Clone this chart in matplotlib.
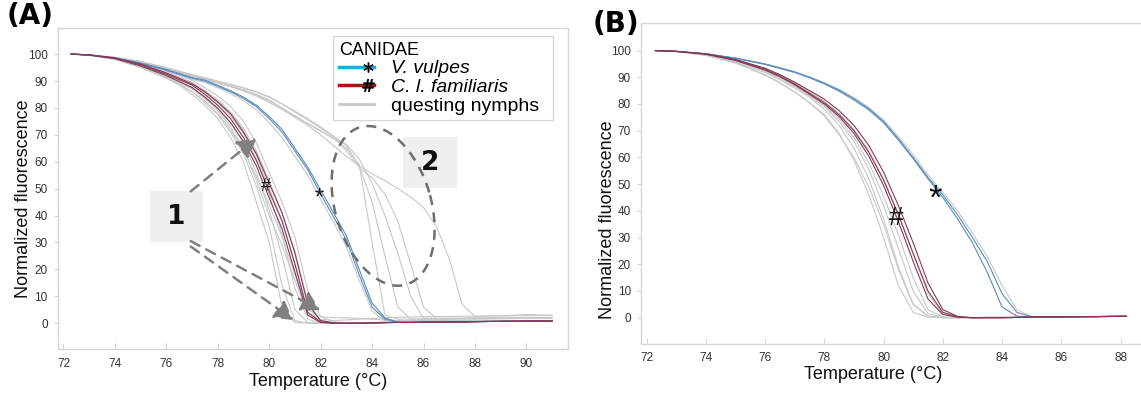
import matplotlib
matplotlib.use("Agg")
import matplotlib.pyplot as plt
import matplotlib.transforms as mtrans
from matplotlib.patches import Rectangle, Ellipse
from matplotlib.lines import Line2D
from matplotlib.legend_handler import HandlerLine2D

plt.rcParams['font.family'] = ['Liberation Sans', 'DejaVu Sans']

# ---------------- panel A data (temperature grid + normalized fluorescence) ----------------
TA = [72.3, 73, 74, 75, 76, 76.5, 77, 77.5, 78, 78.5, 79, 79.5, 80, 80.5, 81, 81.5,
      82, 82.5, 83, 83.5, 84, 84.5, 85, 85.5, 86, 86.5, 87, 87.5, 88, 89, 90, 91]

fox_a1 = [100, 99.7, 98.5, 96.5, 94.0, 92.5, 91.0, 90.0, 88.0, 86.0, 83.5, 80.5, 76.0, 71.0, 64.0, 57.0,
          48.0, 39.5, 31.0, 18.0, 6.0, 1.5, 0.3, 0.3, 0.4, 0.4, 0.5, 0.5, 0.6, 0.7, 0.8, 0.8]
fox_a2 = [100, 99.7, 98.6, 96.7, 94.3, 92.8, 91.3, 90.3, 88.4, 86.4, 84.0, 81.0, 76.8, 72.0, 65.0, 58.0,
          49.5, 41.0, 32.5, 20.0, 7.5, 2.0, 0.4, 0.3, 0.4, 0.4, 0.5, 0.5, 0.6, 0.7, 0.8, 0.8]

dog_a1 = [100, 99.7, 98.5, 96.0, 92.5, 90.5, 88.5, 85.0, 81.0, 76.0, 69.0, 60.5, 49.0, 38.0, 22.0, 4.0,
          0.5, 0.0, 0.0, 0.0, 0.1, 0.2, 0.3, 0.3, 0.4, 0.4, 0.5, 0.5, 0.6, 0.7, 0.8, 0.8]
dog_a2 = [100, 99.6, 98.3, 95.6, 92.0, 89.8, 87.6, 84.0, 79.8, 74.5, 67.5, 58.5, 46.5, 35.0, 19.0, 3.0,
          0.3, 0.0, 0.0, 0.0, 0.1, 0.2, 0.3, 0.3, 0.4, 0.4, 0.5, 0.5, 0.6, 0.7, 0.8, 0.8]
dog_a3 = [100, 99.7, 98.6, 96.3, 93.0, 91.0, 89.0, 86.0, 82.2, 77.8, 71.0, 63.0, 52.0, 41.0, 26.0, 7.0,
          1.0, 0.1, 0.0, 0.0, 0.1, 0.2, 0.3, 0.3, 0.4, 0.4, 0.5, 0.5, 0.6, 0.7, 0.8, 0.8]

nym_a1 = [100, 99.6, 98.0, 95.0, 91.0, 88.5, 85.0, 81.0, 76.0, 69.0, 60.0, 45.0, 30.0, 6.0, 0.3, 0.0,
          0.0, 0.0, 0.1, 0.2, 0.2, 0.3, 0.3, 0.4, 0.4, 0.5, 0.5, 0.5, 0.6, 0.7, 0.8, 0.8]
nym_a2 = [100, 99.6, 98.2, 95.5, 91.5, 89.0, 86.0, 82.0, 77.5, 71.0, 63.0, 51.0, 36.0, 14.0, 1.0, 0.0,
          0.0, 0.0, 0.1, 0.2, 0.2, 0.3, 0.3, 0.4, 0.4, 0.5, 0.5, 0.5, 0.6, 0.7, 0.8, 0.8]
nym_a3 = [100, 99.7, 98.4, 96.0, 92.5, 90.0, 87.5, 84.0, 80.0, 74.5, 67.0, 56.0, 42.0, 25.0, 5.0, 0.3,
          0.0, 0.0, 0.1, 0.2, 0.2, 0.3, 0.3, 0.4, 0.4, 0.5, 0.5, 0.5, 0.6, 0.7, 0.8, 0.8]
nym_a4 = [100, 99.7, 98.5, 96.2, 93.0, 91.0, 88.5, 85.5, 82.0, 77.0, 70.5, 61.0, 48.0, 33.0, 13.0, 1.5,
          0.1, 0.0, 0.1, 0.2, 0.2, 0.3, 0.3, 0.4, 0.4, 0.5, 0.5, 0.5, 0.6, 0.7, 0.8, 0.8]
nym_a5 = [100, 99.7, 98.6, 96.5, 93.5, 91.5, 89.5, 86.5, 83.0, 78.5, 72.5, 64.0, 53.0, 41.0, 27.0, 8.0,
          1.0, 0.2, 0.1, 0.2, 0.2, 0.3, 0.3, 0.4, 0.4, 0.5, 0.5, 0.5, 0.6, 0.7, 0.8, 0.8]
nym_a6 = [100, 99.7, 98.7, 96.8, 94.0, 92.2, 90.3, 87.5, 84.5, 80.5, 75.0, 67.0, 56.0, 45.0, 32.0, 12.0,
          2.5, 0.5, 0.2, 0.2, 0.2, 0.3, 0.3, 0.4, 0.4, 0.5, 0.5, 0.5, 0.6, 0.7, 0.8, 0.8]
nym_a7 = [100, 99.7, 98.4, 95.8, 92.0, 89.5, 87.0, 83.5, 79.0, 73.0, 65.0, 53.0, 40.0, 29.0, 16.0, 3.0,
          0.3, 0.0, 0.1, 0.2, 0.2, 0.3, 0.3, 0.4, 0.4, 0.5, 0.5, 0.5, 0.6, 0.7, 0.8, 0.8]
nym_a8 = [100, 99.6, 98.1, 95.2, 91.2, 88.8, 86.0, 82.5, 78.0, 72.0, 64.0, 54.5, 44.0, 32.0, 18.0, 4.0,
          1.5, 1.0, 1.2, 1.5, 1.8, 2.0, 2.2, 2.3, 2.4, 2.5, 2.5, 2.6, 2.6, 2.7, 2.8, 2.8]
nym_a9 = [100, 99.7, 98.5, 96.3, 93.0, 91.0, 88.8, 86.0, 82.5, 78.0, 71.5, 62.5, 50.0, 38.0, 22.0, 5.0,
          2.5, 2.0, 2.0, 1.8, 1.5, 1.2, 1.0, 1.0, 1.0, 1.0, 1.0, 1.0, 1.0, 1.0, 1.0, 1.0]
nym_a10 = [100, 99.7, 98.7, 97.0, 94.5, 93.2, 91.8, 90.5, 89.2, 88.0, 86.8, 85.0, 83.0, 80.0, 77.0, 74.0,
           71.5, 68.5, 65.0, 59.0, 30.0, 3.0, 1.5, 1.5, 1.5, 1.5, 1.5, 1.6, 1.6, 1.7, 1.8, 1.8]
nym_a11 = [100, 99.7, 98.8, 97.2, 94.8, 93.5, 92.2, 91.0, 89.8, 88.6, 87.4, 85.8, 84.0, 81.5, 78.5, 75.5,
           72.5, 69.5, 66.0, 58.5, 45.0, 25.0, 6.0, 1.5, 1.5, 1.5, 1.5, 1.6, 1.6, 1.7, 1.8, 1.8]
nym_a12 = [100, 99.7, 98.7, 97.1, 94.6, 93.3, 92.0, 90.7, 89.4, 88.0, 86.5, 84.6, 82.5, 79.8, 77.0, 74.3,
           71.5, 69.0, 66.5, 61.0, 52.0, 40.0, 26.0, 10.0, 1.8, 1.8, 1.8, 1.8, 1.9, 2.0, 2.0, 2.0]
nym_a13 = [100, 99.7, 98.8, 97.3, 95.0, 93.7, 92.4, 91.2, 90.0, 88.8, 87.5, 86.0, 84.2, 81.5, 78.8, 76.0,
           73.0, 69.5, 64.0, 58.0, 54.0, 48.0, 38.0, 22.0, 6.0, 1.8, 1.8, 1.9, 2.0, 2.0, 2.1, 2.1]
nym_a14 = [100, 99.7, 98.7, 97.0, 94.5, 93.2, 91.9, 90.6, 89.3, 87.9, 86.3, 84.4, 82.0, 79.5, 76.5, 73.5,
           70.0, 66.0, 62.0, 58.5, 55.5, 53.0, 50.0, 47.0, 43.0, 36.0, 24.0, 7.0, 2.5, 2.8, 3.2, 3.0]
nym_a15 = [100, 99.7, 98.5, 96.4, 93.8, 92.2, 90.6, 89.5, 87.5, 85.3, 82.6, 79.3, 74.5, 69.0, 62.0, 55.0,
           46.0, 37.5, 28.5, 16.0, 4.5, 0.8, 0.5, 0.5, 0.5, 0.5, 0.6, 0.6, 0.6, 0.7, 0.8, 0.8]

# ---------------- panel B data ----------------
TB = [72.3, 73, 74, 75, 76, 76.5, 77, 77.5, 78, 78.5, 79, 79.5, 80, 80.5, 81, 81.5,
      82, 82.5, 83, 83.5, 84, 84.5, 85, 85.5, 86, 87, 88, 88.2]

fox_b1 = [100, 99.7, 98.8, 97.2, 95.0, 93.5, 92.0, 90.0, 87.8, 85.2, 82.0, 78.3, 73.5, 67.0, 60.0, 52.5,
          46.0, 38.5, 30.0, 21.0, 9.0, 2.0, 0.3, 0.3, 0.4, 0.4, 0.5, 0.5]
fox_b2 = [100, 99.7, 98.8, 97.1, 94.8, 93.3, 91.8, 89.8, 87.5, 84.8, 81.5, 77.8, 73.0, 66.5, 59.5, 52.0,
          45.0, 37.0, 28.0, 17.0, 4.0, 0.6, 0.3, 0.3, 0.4, 0.4, 0.5, 0.5]

dog_b1 = [100, 99.7, 98.7, 96.5, 93.0, 90.5, 87.5, 84.0, 80.5, 76.0, 70.0, 62.0, 51.5, 38.5, 24.0, 10.0,
          2.0, 0.3, 0.0, 0.0, 0.0, 0.1, 0.2, 0.3, 0.3, 0.4, 0.5, 0.5]
dog_b2 = [100, 99.7, 98.6, 96.3, 92.7, 90.2, 87.2, 83.6, 80.0, 75.3, 69.0, 60.5, 49.5, 36.0, 21.0, 7.0,
          1.2, 0.2, 0.0, 0.0, 0.0, 0.1, 0.2, 0.3, 0.3, 0.4, 0.5, 0.5]
dog_b3 = [100, 99.7, 98.8, 96.7, 93.4, 91.0, 88.2, 85.0, 81.8, 77.5, 72.0, 64.5, 54.5, 42.0, 28.0, 13.0,
          3.0, 0.5, 0.0, 0.0, 0.0, 0.1, 0.2, 0.3, 0.3, 0.4, 0.5, 0.5]

nym_b1 = [100, 99.6, 98.3, 95.5, 91.0, 88.0, 84.5, 80.5, 76.0, 69.0, 59.0, 46.0, 30.0, 12.0, 2.0, 0.2,
          0.0, 0.0, 0.0, 0.1, 0.1, 0.2, 0.2, 0.3, 0.3, 0.4, 0.5, 0.5]
nym_b2 = [100, 99.6, 98.4, 95.8, 91.8, 89.0, 86.0, 82.5, 78.0, 72.0, 63.5, 52.0, 37.0, 19.0, 5.0, 0.5,
          0.0, 0.0, 0.0, 0.1, 0.1, 0.2, 0.2, 0.3, 0.3, 0.4, 0.5, 0.5]
nym_b3 = [100, 99.7, 98.5, 96.0, 92.2, 89.5, 86.5, 83.0, 79.0, 73.5, 66.0, 55.5, 42.0, 26.0, 10.0, 1.5,
          0.2, 0.0, 0.0, 0.1, 0.1, 0.2, 0.2, 0.3, 0.3, 0.4, 0.5, 0.5]
nym_b4 = [100, 99.7, 98.5, 96.2, 92.5, 90.0, 87.0, 83.5, 79.5, 74.5, 67.5, 58.0, 45.5, 31.0, 15.0, 3.0,
          0.3, 0.0, 0.0, 0.1, 0.1, 0.2, 0.2, 0.3, 0.3, 0.4, 0.5, 0.5]
nym_b5 = [100, 99.7, 98.6, 96.4, 93.0, 90.6, 87.8, 84.5, 81.0, 76.5, 70.5, 62.5, 52.0, 39.0, 24.0, 9.0,
          1.5, 0.2, 0.0, 0.1, 0.1, 0.2, 0.2, 0.3, 0.3, 0.4, 0.5, 0.5]
nym_b6 = [100, 99.6, 98.2, 95.3, 90.8, 87.8, 84.5, 80.5, 75.5, 68.5, 60.0, 49.0, 35.0, 18.0, 5.0, 0.6,
          0.0, 0.0, 0.0, 0.1, 0.1, 0.2, 0.2, 0.3, 0.3, 0.4, 0.5, 0.5]
nym_b7 = [100, 99.7, 98.8, 97.2, 95.0, 93.6, 92.1, 90.2, 88.0, 85.5, 82.4, 78.8, 74.0, 67.8, 61.0, 53.5,
          47.0, 40.0, 31.5, 23.0, 12.0, 3.0, 0.5, 0.3, 0.4, 0.4, 0.5, 0.5]

x_ticks_a = [72, 74, 76, 78, 80, 82, 84, 86, 88, 90]
x_ticks_b = [72, 74, 76, 78, 80, 82, 84, 86, 88]
y_ticks = [0, 10, 20, 30, 40, 50, 60, 70, 80, 90, 100]
legend_labels = ['V. vulpes', 'C. l. familiaris', 'questing nymphs']

GRAY = '#c8c8c8'
FOX = '#5a8dbd'
DOG = '#84395a'
SPINE = '#d6d6d6'


class EndMarker(HandlerLine2D):
    # legend line with its marker sitting near the right end, like the original key
    def create_artists(self, legend, orig_handle, xdescent, ydescent, width, height, fontsize, trans):
        arts = super().create_artists(legend, orig_handle, xdescent, ydescent,
                                      width, height, fontsize, trans)
        line = arts[0]
        xd = list(line.get_xdata())
        line.set_xdata([xd[0], xd[0] + 0.82 * (xd[-1] - xd[0]), xd[-1]])
        return arts


def style_axes(ax, xticks, ylabel_y, xlabel_x, xlabel_y):
    for s in ax.spines.values():
        s.set_color(SPINE)
        s.set_linewidth(1.0)
    ax.set_xticks(xticks)
    ax.set_yticks(y_ticks)
    ax.tick_params(axis='x', direction='in', length=4, color=SPINE, labelsize=8.5,
                   labelcolor='#333333', pad=6)
    ax.tick_params(axis='y', direction='out', length=3, color=SPINE, labelsize=8.5,
                   labelcolor='#333333', pad=4)
    ax.set_xlabel('Temperature (°C)', fontsize=13, color='#111111')
    ax.set_ylabel('Normalized fluorescence', fontsize=13, color='#111111')
    ax.yaxis.set_label_coords(-0.05, ylabel_y)
    ax.xaxis.set_label_coords(xlabel_x, xlabel_y)


fig = plt.figure(figsize=(11.41, 3.96), dpi=100)

# ---------------- panel A ----------------
axA = fig.add_axes([0.0504, 0.1179, 0.4477, 0.8114])
axA.set_xlim(71.77, 91.63)
axA.set_ylim(-9.7, 109.7)
for y in [nym_a1, nym_a2, nym_a3, nym_a4, nym_a5, nym_a6, nym_a7, nym_a8, nym_a9,
          nym_a10, nym_a11, nym_a12, nym_a13, nym_a14, nym_a15]:
    axA.plot(TA, y, color=GRAY, lw=0.8)
for y in [fox_a1, fox_a2]:
    axA.plot(TA, y, color=FOX, lw=0.8)
for y in [dog_a1, dog_a2, dog_a3]:
    axA.plot(TA, y, color=DOG, lw=0.8)
style_axes(axA, x_ticks_a, 0.468, 0.511, -0.075)

axA.text(79.88, 50.7, '#', fontsize=13, ha='center', va='center', color='#111111')
axA.text(81.94, 46.5, '*', fontsize=17, ha='center', va='center', color='#111111')

# annotation boxes
axA.add_patch(Rectangle((75.37, 30.3), 2.07, 18.8, facecolor='#efefef', edgecolor='none', zorder=3))
axA.text(76.40, 39.5, '1', fontsize=19, fontweight='bold', family='DejaVu Sans',
         ha='center', va='center', color='#111111', zorder=4)
axA.add_patch(Rectangle((85.22, 50.4), 2.08, 18.7, facecolor='#efefef', edgecolor='none', zorder=3))
axA.text(86.26, 59.6, '2', fontsize=19, fontweight='bold', family='DejaVu Sans',
         ha='center', va='center', color='#111111', zorder=4)

arrow = dict(arrowstyle='-|>,head_length=0.7,head_width=0.4', color='#808080', lw=1.8,
             linestyle=(0, (4, 3)), mutation_scale=16, shrinkA=0, shrinkB=0)
axA.annotate('', xy=(79.5, 68.7), xytext=(76.95, 49.0), arrowprops=arrow, zorder=5)
axA.annotate('', xy=(80.94, 1.2), xytext=(76.95, 28.5), arrowprops=arrow, zorder=5)
axA.annotate('', xy=(81.98, 4.9), xytext=(76.95, 30.5), arrowprops=arrow, zorder=5)

# dashed ellipse around group 2 (drawn in pixel units around a data centre)
cx, cy = axA.transData.transform((84.43, 43.6))
axA.add_patch(Ellipse((0, 0), 164, 96, angle=106.3, fill=False, edgecolor='#6e6e6e', lw=1.8,
                      linestyle=(0, (4, 3)), zorder=5,
                      transform=mtrans.Affine2D().translate(cx, cy)))

h_fox = Line2D([], [], color='#2aa7e0', lw=2.5, marker='$*$', markersize=7,
               markeredgecolor='black', markerfacecolor='black', markeredgewidth=0.4)
h_dog = Line2D([], [], color='#a01818', lw=2.5, marker='$\\#$', markersize=9,
               markeredgecolor='black', markerfacecolor='black', markeredgewidth=0.4)
h_nym = Line2D([], [], color='#c8c8c8', lw=2.0)
leg = axA.legend([h_fox, h_dog, h_nym], legend_labels,
                 title='CANIDAE', loc='upper left', bbox_to_anchor=(0.54, 0.70, 0.43, 0.275),
                 mode='expand', borderaxespad=0, fontsize=14, title_fontsize=13,
                 frameon=True, fancybox=False, edgecolor='#cccccc', handlelength=1.8,
                 handletextpad=0.85, labelspacing=0.05, borderpad=0.3, alignment='left',
                 numpoints=1, handler_map={h_fox: EndMarker(), h_dog: EndMarker()})
leg.get_frame().set_linewidth(1.0)
leg.get_texts()[0].set_style('italic')
leg.get_texts()[1].set_style('italic')

# ---------------- panel B ----------------
axB = fig.add_axes([0.5615, 0.1313, 0.4385, 0.8098])
axB.set_xlim(71.8, 88.69)
axB.set_ylim(-9.85, 110.2)
for y in [nym_b1, nym_b2, nym_b3, nym_b4, nym_b5, nym_b6, nym_b7]:
    axB.plot(TB, y, color=GRAY, lw=0.8)
for y in [fox_b1, fox_b2]:
    axB.plot(TB, y, color=FOX, lw=0.8)
for y in [dog_b1, dog_b2, dog_b3]:
    axB.plot(TB, y, color=DOG, lw=0.8)
style_axes(axB, x_ticks_b, 0.387, 0.464, -0.068)
axB.spines['right'].set_visible(False)

axB.text(80.44, 37.2, '#', fontsize=19, ha='center', va='center', color='#111111')
axB.text(81.73, 44.5, '*', fontsize=25, ha='center', va='center', color='#111111')

fig.text(0.006, 0.995, '(A)', fontsize=20, fontweight='bold', family='DejaVu Sans',
         ha='left', va='top')
fig.text(0.519, 0.975, '(B)', fontsize=20, fontweight='bold', family='DejaVu Sans',
         ha='left', va='top')

fig.savefig('out.png', dpi=100)
